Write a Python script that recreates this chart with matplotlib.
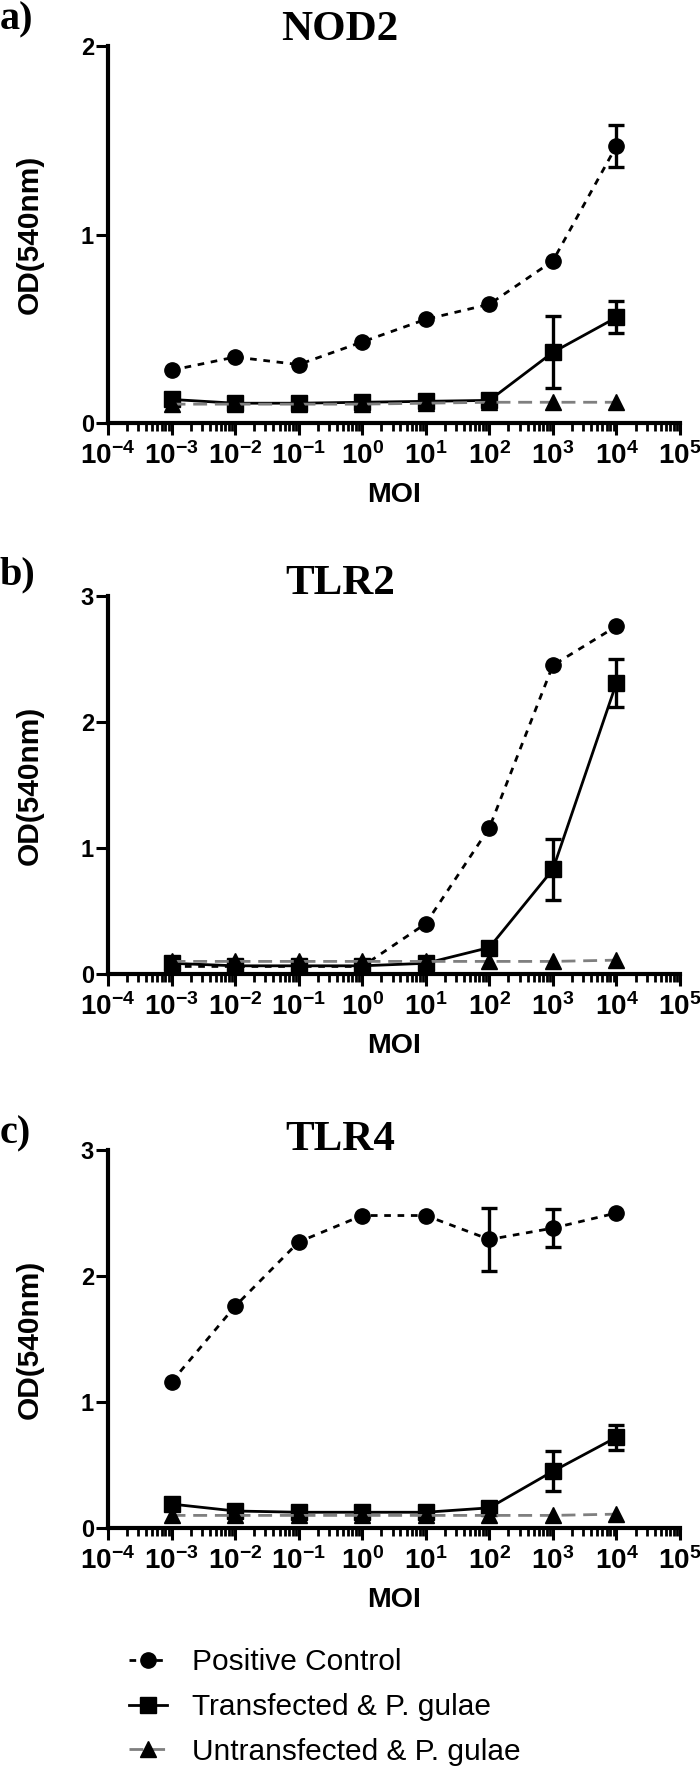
import numpy as np
import matplotlib
matplotlib.use("Agg")
import matplotlib.pyplot as plt
from matplotlib.ticker import LogLocator, FixedLocator, FuncFormatter, NullFormatter

plt.rcParams['font.family'] = ['Liberation Sans', 'DejaVu Sans']
plt.rcParams['mathtext.fontset'] = 'custom'
plt.rcParams['mathtext.rm'] = 'Liberation Sans:bold'
plt.rcParams['mathtext.bf'] = 'Liberation Sans:bold'
plt.rcParams['mathtext.it'] = 'Liberation Sans:bold'

# ---------------- data ----------------
moi = [1e-3, 1e-2, 1e-1, 1e0, 1e1, 1e2, 1e3, 1e4]
series_labels = ["Positive Control", "Transfected & P. gulae", "Untransfected & P. gulae"]
panel_titles = ["NOD2", "TLR2", "TLR4"]
panel_tags = ["a)", "b)", "c)"]
y_max = [2, 3, 3]

nod2_pos = [0.28, 0.35, 0.31, 0.43, 0.55, 0.63, 0.86, 1.47]
nod2_pos_err = [0, 0, 0, 0, 0, 0, 0, 0.11]
nod2_trans = [0.125, 0.105, 0.105, 0.11, 0.115, 0.12, 0.375, 0.56]
nod2_trans_err = [0, 0, 0, 0, 0, 0, 0.19, 0.085]
nod2_untr = [0.10, 0.10, 0.10, 0.10, 0.105, 0.11, 0.11, 0.11]

tlr2_pos = [0.06, 0.06, 0.06, 0.06, 0.40, 1.16, 2.45, 2.76]
tlr2_pos_err = [0, 0, 0, 0, 0, 0, 0, 0]
tlr2_trans = [0.085, 0.065, 0.065, 0.065, 0.085, 0.21, 0.83, 2.31]
tlr2_trans_err = [0, 0, 0, 0, 0, 0, 0.245, 0.19]
tlr2_untr = [0.10, 0.10, 0.10, 0.10, 0.10, 0.10, 0.10, 0.11]

tlr4_pos = [1.16, 1.76, 2.27, 2.48, 2.48, 2.29, 2.38, 2.50]
tlr4_pos_err = [0, 0, 0, 0, 0, 0.25, 0.15, 0]
tlr4_trans = [0.19, 0.135, 0.125, 0.125, 0.125, 0.16, 0.45, 0.72]
tlr4_trans_err = [0, 0, 0, 0, 0, 0, 0.16, 0.10]
tlr4_untr = [0.10, 0.10, 0.10, 0.10, 0.10, 0.10, 0.10, 0.11]

panels = [
    (nod2_pos, nod2_pos_err, nod2_trans, nod2_trans_err, nod2_untr),
    (tlr2_pos, tlr2_pos_err, tlr2_trans, tlr2_trans_err, tlr2_untr),
    (tlr4_pos, tlr4_pos_err, tlr4_trans, tlr4_trans_err, tlr4_untr),
]

# ---------------- figure ----------------
W, H = 700, 1766
fig = plt.figure(figsize=(W / 100, H / 100), dpi=100)

ax_top_px = [46, 596, 1150]
ax_bot_px = [423, 974, 1528]
left_px, right_px = 108, 680
title_y_px = [30, 584, 1140]
tag_y_px = [20, 575, 1134]

GRAY = '#7f7f7f'
LW = 2.0
MS = 11
x = np.array(moi)


def sup_fmt(v, pos):
    e = int(round(np.log10(v)))
    return r'$10^{%d}$' % e


handles = None
for i, (pos, pos_err, tr, tr_err, un) in enumerate(panels):
    hpx = ax_bot_px[i] - ax_top_px[i]
    b = 1 - ax_bot_px[i] / H
    ax = fig.add_axes([left_px / W, b, (right_px - left_px) / W, hpx / H])

    l1, = ax.plot(x, pos, color='black', lw=LW, linestyle=(0, (2.4, 2.4)),
                  marker='o', ms=MS, mfc='black', mec='black', clip_on=False, zorder=3)
    l2, = ax.plot(x, tr, color='black', lw=LW, linestyle='-',
                  marker='s', ms=MS, mfc='black', mec='black', clip_on=False, zorder=4)
    l3, = ax.plot(x, un, color=GRAY, lw=LW, linestyle=(0, (5, 2.8)),
                  marker='^', ms=MS, mfc='black', mec='black', clip_on=False, zorder=5)
    for yv, ev in ((pos, pos_err), (tr, tr_err)):
        yv = np.array(yv); ev = np.array(ev)
        m = ev > 0
        if m.any():
            ax.errorbar(x[m], yv[m], yerr=ev[m], fmt='none', ecolor='black',
                        elinewidth=2.4, capsize=5.5, capthick=2.4, clip_on=False, zorder=6)
    if handles is None:
        handles = [l1, l2, l3]

    ax.set_xscale('log')
    ax.set_xlim(1e-4, 1e5)
    ax.set_ylim(0, y_max[i])
    ax.set_yticks(list(range(0, y_max[i] + 1)))
    ax.xaxis.set_major_locator(FixedLocator([10.0 ** k for k in range(-4, 6)]))
    ax.xaxis.set_major_formatter(FuncFormatter(sup_fmt))
    ax.xaxis.set_minor_locator(LogLocator(base=10, subs=np.arange(2, 10), numticks=30))
    ax.xaxis.set_minor_formatter(NullFormatter())

    for s in ['top', 'right']:
        ax.spines[s].set_visible(False)
    for s in ['left', 'bottom']:
        ax.spines[s].set_linewidth(3.0)
        ax.spines[s].set_color('black')

    ax.tick_params(axis='x', which='major', direction='out', length=8.6, width=2.2,
                   labelsize=20, pad=5)
    ax.tick_params(axis='x', which='minor', direction='out', length=5.8, width=2.0)
    ax.tick_params(axis='y', which='major', direction='out', length=8.6, width=2.2,
                   labelsize=17, pad=1.5)
    for lab in ax.get_yticklabels():
        lab.set_fontweight('bold')

    ax.set_xlabel('MOI', fontsize=20.5, fontweight='bold')
    ax.xaxis.label.set_va('center')
    ax.xaxis.set_label_coords(0.5, -72 / hpx)
    ax.set_ylabel('OD(540nm)', fontsize=21.5, fontweight='bold')
    ax.yaxis.label.set_va('center')
    ax.yaxis.set_label_coords(-(left_px - 30) / (right_px - left_px), 0.5)

    fig.text(340 / W, 1 - title_y_px[i] / H, panel_titles[i], ha='center', va='center',
             fontsize=31, fontweight='bold', family=['Liberation Serif', 'DejaVu Serif'])
    fig.text(0 / W, 1 - tag_y_px[i] / H, panel_tags[i], ha='left', va='center',
             fontsize=29, fontweight='bold', family=['Liberation Serif', 'DejaVu Serif'])

fig.legend(handles, series_labels, loc='center left',
           bbox_to_anchor=(129 / W, 1 - 1707 / H), frameon=False,
           fontsize=21.5, handlelength=1.27, handletextpad=0.83,
           labelspacing=0.56, borderpad=0, borderaxespad=0)

fig.savefig('out.png', dpi=100)
